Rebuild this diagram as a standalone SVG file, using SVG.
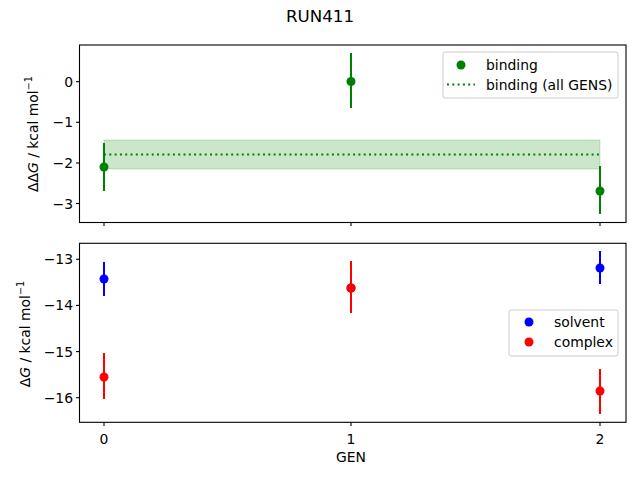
<svg xmlns="http://www.w3.org/2000/svg" width="640" height="480" viewBox="0 0 640 480">
<style>
text{font-family:"DejaVu Sans",sans-serif;font-size:13.9px;fill:#000}
.ax{fill:none;stroke:#000;stroke-width:1.1}
.tk{stroke:#000;stroke-width:1.1}
.g{stroke:#008000;stroke-width:2}
.b{stroke:#0000ff;stroke-width:2}
.r{stroke:#ff0000;stroke-width:2}
.leg{fill:#fff;fill-opacity:0.8;stroke:#ccc;stroke-width:1}
</style>
<rect width="640" height="480" fill="#fff"/>
<text x="320" y="22" text-anchor="middle" style="font-size:16.7px">RUN411</text>
<g id="top-axes">
<rect x="104" y="140" width="496" height="29" fill="#008000" fill-opacity="0.2" stroke="#008000" stroke-opacity="0.2"/>
<line x1="104" y1="154.5" x2="600" y2="154.5" stroke="#008000" stroke-width="2" stroke-dasharray="2,3.3"/>
<g id="binding">
<line class="g" x1="104" y1="143" x2="104" y2="191"/><circle cx="104" cy="167" r="4.5" fill="#008000"/>
<line class="g" x1="351" y1="53" x2="351" y2="108"/><circle cx="351" cy="81.5" r="4.5" fill="#008000"/>
<line class="g" x1="600" y1="166" x2="600" y2="214"/><circle cx="600" cy="191" r="4.5" fill="#008000"/>
</g>
<rect class="ax" x="79.5" y="45" width="546.5" height="177.5"/>
<g class="tk">
<line x1="76" y1="81.7" x2="79.5" y2="81.7"/><line x1="76" y1="122.3" x2="79.5" y2="122.3"/>
<line x1="76" y1="163" x2="79.5" y2="163"/><line x1="76" y1="203.5" x2="79.5" y2="203.5"/>
<line x1="104" y1="222.5" x2="104" y2="226"/><line x1="351" y1="222.5" x2="351" y2="226"/><line x1="600" y1="222.5" x2="600" y2="226"/>
</g>
<g text-anchor="end">
<text x="73" y="86.7">0</text><text x="73" y="127.3">−1</text><text x="73" y="168">−2</text><text x="73" y="208.5">−3</text>
</g>
<text transform="translate(38,134) rotate(-90)" text-anchor="middle">ΔΔ<tspan font-style="italic">G</tspan> / kcal mol<tspan dy="-6" style="font-size:9.7px">−1</tspan></text>
<g id="legend-top">
<rect class="leg" x="443" y="52" width="175" height="46" rx="2"/>
<circle cx="461" cy="65" r="4.5" fill="#008000"/>
<text x="486" y="70">binding</text>
<line x1="447" y1="84.5" x2="475" y2="84.5" stroke="#008000" stroke-width="2" stroke-dasharray="2,3.3"/>
<text x="486" y="89.5">binding (all GENS)</text>
</g>
</g>
<g id="bottom-axes">
<g id="solvent">
<line class="b" x1="104" y1="262" x2="104" y2="296"/><circle cx="104" cy="279" r="4.5" fill="#0000ff"/>
<line class="b" x1="351" y1="270" x2="351" y2="306"/><circle cx="351" cy="288" r="4.5" fill="#0000ff"/>
<line class="b" x1="600" y1="251" x2="600" y2="284"/><circle cx="600" cy="268" r="4.5" fill="#0000ff"/>
</g>
<g id="complex">
<line class="r" x1="104" y1="353" x2="104" y2="399"/><circle cx="104" cy="377" r="4.5" fill="#ff0000"/>
<line class="r" x1="351" y1="261" x2="351" y2="313"/><circle cx="351" cy="288" r="4.5" fill="#ff0000"/>
<line class="r" x1="600" y1="369" x2="600" y2="414"/><circle cx="600" cy="391" r="4.5" fill="#ff0000"/>
</g>
<rect class="ax" x="79.5" y="243.3" width="546.5" height="179"/>
<g class="tk">
<line x1="76" y1="259.3" x2="79.5" y2="259.3"/><line x1="76" y1="305.4" x2="79.5" y2="305.4"/>
<line x1="76" y1="351.6" x2="79.5" y2="351.6"/><line x1="76" y1="397.7" x2="79.5" y2="397.7"/>
<line x1="104" y1="422.3" x2="104" y2="426"/><line x1="351" y1="422.3" x2="351" y2="426"/><line x1="600" y1="422.3" x2="600" y2="426"/>
</g>
<g text-anchor="end">
<text x="73" y="264.3">−13</text><text x="73" y="310.4">−14</text><text x="73" y="356.6">−15</text><text x="73" y="402.7">−16</text>
</g>
<g text-anchor="middle">
<text x="104" y="444">0</text><text x="351" y="444">1</text><text x="600" y="444">2</text>
</g>
<text x="351" y="462" text-anchor="middle">GEN</text>
<text transform="translate(30,334) rotate(-90)" text-anchor="middle">Δ<tspan font-style="italic">G</tspan> / kcal mol<tspan dy="-6" style="font-size:9.7px">−1</tspan></text>
<g id="legend-bottom">
<rect class="leg" x="509" y="310" width="109" height="46" rx="2"/>
<circle cx="529" cy="322" r="4.5" fill="#0000ff"/>
<text x="554" y="327">solvent</text>
<circle cx="529" cy="342" r="4.5" fill="#ff0000"/>
<text x="554" y="347">complex</text>
</g>
</g>
</svg>
